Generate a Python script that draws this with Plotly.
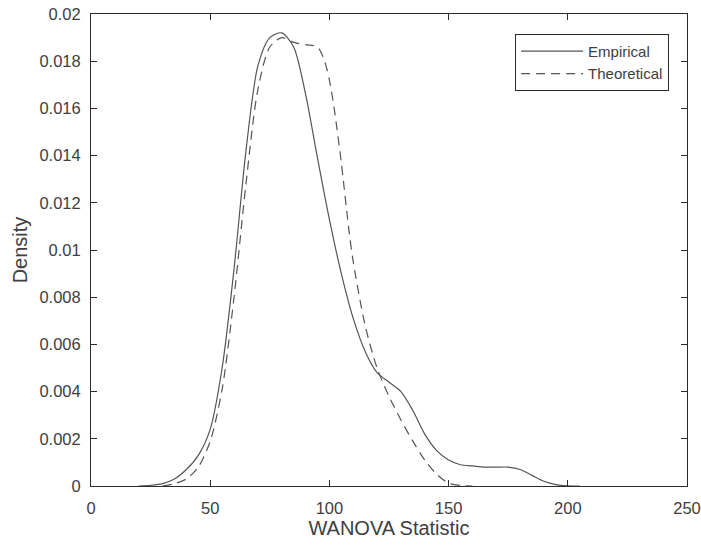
import plotly.graph_objects as go

# Empirical density (solid)
emp_x = [20, 25, 30, 35, 40, 45, 50, 55, 60, 65, 70, 75, 80, 85, 90, 95, 100, 105, 110,
         115, 120, 125, 130, 135, 140, 145, 150, 155, 160, 165, 170, 175, 180, 185, 190,
         195, 200, 205]
emp_y = [0.0, 0.00003, 0.0001, 0.0003, 0.0007, 0.0013, 0.0024, 0.0050, 0.0092, 0.0142,
         0.0178, 0.0190, 0.0192, 0.0186, 0.0166, 0.0139, 0.0113, 0.0090, 0.0071, 0.0057,
         0.0048, 0.0044, 0.0040, 0.0032, 0.0022, 0.0015, 0.0011, 0.0009, 0.00085, 0.0008,
         0.0008, 0.0008, 0.0007, 0.00045, 0.0002, 0.00006, 0.00001, 0.0]

# Theoretical density (dashed)
the_x = [30, 35, 40, 45, 50, 55, 60, 65, 70, 75, 80, 85, 90, 95, 98, 100, 102, 105, 108,
         110, 115, 120, 125, 130, 135, 140, 145, 150, 155, 160]
the_y = [0.0, 0.0001, 0.0003, 0.0008, 0.0019, 0.0041, 0.0080, 0.0128, 0.0168, 0.0186,
         0.0190, 0.0188, 0.0187, 0.0186, 0.0180, 0.0172, 0.0160, 0.0137, 0.0110, 0.0095,
         0.0068, 0.0050, 0.0038, 0.0028, 0.0019, 0.0011, 0.0005, 0.00012, 0.00002, 0.0]

x_ticks = [0, 50, 100, 150, 200, 250]
y_ticks = [0, 0.002, 0.004, 0.006, 0.008, 0.01, 0.012, 0.014, 0.016, 0.018, 0.02]
y_ticktext = ["0", "0.002", "0.004", "0.006", "0.008", "0.01", "0.012", "0.014",
              "0.016", "0.018", "0.02"]

LINE = "#555555"
AX = "#2b2b2b"
TXT = "#404040"
FONT = "Liberation Sans, Arial, sans-serif"

fig = go.Figure()
fig.add_trace(go.Scatter(x=emp_x, y=emp_y, mode="lines", name="Empirical",
                         line=dict(color=LINE, width=1.2, shape="spline", smoothing=0.8)))
fig.add_trace(go.Scatter(x=the_x, y=the_y, mode="lines", name="Theoretical",
                         line=dict(color=LINE, width=1.2, dash="9px,6px", shape="spline",
                                   smoothing=0.8)))

axis_common = dict(showline=True, linecolor=AX, linewidth=1, mirror="ticks",
                   ticks="inside", ticklen=6, tickcolor=AX, tickwidth=1,
                   showgrid=False, zeroline=False, automargin=False,
                   ticklabeloverflow="allow",
                   tickfont=dict(family=FONT, size=16.5, color=TXT))

fig.update_layout(
    width=701, height=546,
    margin=dict(l=91, r=14, t=14, b=60),
    paper_bgcolor="white", plot_bgcolor="white",
    font=dict(family=FONT, color=TXT),
    xaxis=dict(range=[0, 250], tickvals=x_ticks, ticklabelstandoff=7,
               title=dict(text="WANOVA Statistic", font=dict(family=FONT, size=20, color=TXT),
                          standoff=2),
               **axis_common),
    yaxis=dict(range=[0, 0.02], tickvals=y_ticks, ticktext=y_ticktext, ticklabelstandoff=6,
               title=dict(text="Density", font=dict(family=FONT, size=20, color=TXT),
                          standoff=6),
               **axis_common),
    legend=dict(x=0.97, y=0.958, xanchor="right", yanchor="top",
                bgcolor="white", bordercolor=AX, borderwidth=1,
                font=dict(family=FONT, size=15, color=TXT),
                tracegroupgap=0, itemwidth=62),
    showlegend=True,
)

fig.write_html("out.html")
